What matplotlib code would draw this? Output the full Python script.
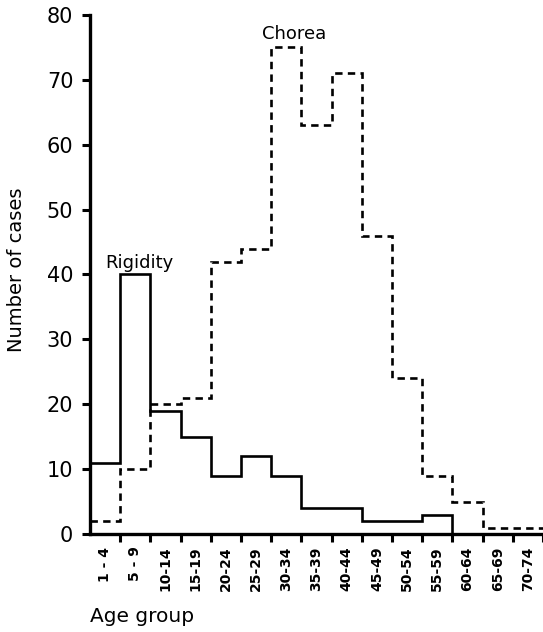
import numpy as np
import matplotlib.pyplot as plt

# Data
AGE_GROUPS = ["1 - 4", "5 - 9", "10-14", "15-19", "20-24", "25-29", "30-34",
              "35-39", "40-44", "45-49", "50-54", "55-59", "60-64", "65-69",
              "70-74"]
RIGIDITY = [11, 40, 19, 15, 9, 12, 9, 4, 4, 2, 2, 3, 0, 0, 0]
CHOREA = [2, 10, 20, 21, 42, 44, 75, 63, 71, 46, 24, 9, 5, 1, 1]

FONT = "DejaVu Sans"
PX = 1 / 100
FIG_SIZE = (543 * PX, 632 * PX)

fig = plt.figure(figsize=FIG_SIZE, dpi=100)
ax = fig.add_axes([90 / 543, 98 / 632, 453 / 543, 519 / 632])

edges = np.arange(len(AGE_GROUPS) + 1)
ax.stairs(RIGIDITY, edges, baseline=0, color="black", lw=1.9)
ax.stairs(CHOREA, edges, baseline=None, color="black", lw=1.9,
          linestyle=(0, (2.8, 2.0)))

ax.set_xlim(0, len(AGE_GROUPS))
ax.set_ylim(0, 80)
ax.set_yticks(range(0, 81, 10))
ax.set_yticklabels([str(v) for v in range(0, 81, 10)], fontsize=15,
                   family=FONT)

# tick marks on the class boundaries, labels in the middle of each class
ax.set_xticks(edges[1:])
ax.set_xticklabels([])
ax.set_xticks(edges[:-1] + 0.5, minor=True)
ax.set_xticklabels(AGE_GROUPS, minor=True, rotation=90, fontsize=10,
                   family=FONT, fontweight="bold")
ax.tick_params(axis="x", which="minor", length=0, pad=9)
ax.tick_params(axis="both", which="major", length=6, width=2.2,
               direction="out")
ax.tick_params(axis="y", pad=6)

for side in ["top", "right"]:
    ax.spines[side].set_visible(False)
for side in ["left", "bottom"]:
    ax.spines[side].set_linewidth(2.4)

ax.text(1.62, 41.8, "Rigidity", ha="center", va="center", fontsize=13,
        family=FONT)
ax.text(6.75, 77.0, "Chorea", ha="center", va="center", fontsize=13,
        family=FONT)

fig.text(17 / 543, 1 - 270 / 632, "Number of cases", rotation=90,
         ha="center", va="center", fontsize=14, family=FONT)
fig.text(90 / 543, 1 - 617 / 632, "Age group", ha="left", va="center",
         fontsize=14.5, family=FONT)

plt.savefig("out.png", dpi=100)
